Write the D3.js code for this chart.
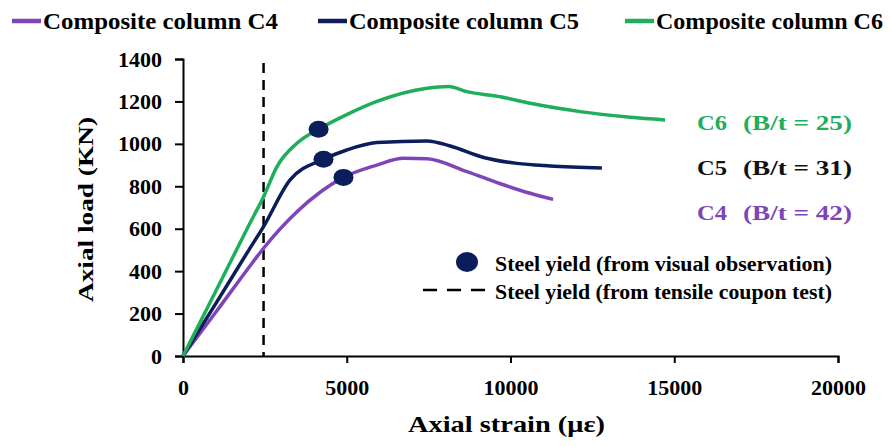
<!DOCTYPE html>
<html>
<head>
<meta charset="utf-8">
<script src="https://cdn.jsdelivr.net/npm/d3@7"></script>
<style>
body{margin:0;background:#fff;}
svg text{font-family:"Liberation Serif","Times New Roman",Times,"Nimbus Roman","Tinos","DejaVu Serif",serif !important;font-weight:bold;}
</style>
</head>
<body>
<script>
// strain (με) vs load (kN)
const c4Strain = [0, 1000, 2000, 2460, 3480, 4900, 5920, 6730, 7450, 8670, 9690, 10600, 11300];
const c4Load   = [0, 206, 415, 508, 680, 842, 900, 932, 930, 869, 812, 767, 738];
const c5Strain = [0, 1000, 2000, 2460, 3270, 4290, 5000, 5920, 7450, 8160, 9180, 10200, 11210, 12790];
const c5Load   = [0, 247, 497, 610, 830, 927, 971, 1006, 1014, 990, 936, 908, 896, 886];
const c6Strain = [0, 1000, 2000, 2460, 2870, 3480, 4140, 5000, 5920, 7450, 8110, 8670, 9690, 10600, 12130, 13650, 14720];
const c6Load   = [0, 305, 613, 751, 893, 1003, 1069, 1138, 1200, 1262, 1270, 1246, 1222, 1191, 1152, 1125, 1113];
const seriesNames = ["Composite column C4", "Composite column C5", "Composite column C6"];
const seriesColors = ["#7d45b8", "#0b1e5b", "#1fae5a"];
const sideNames = ["C4", "C5", "C6"];
const sideRatios = ["(B/t = 42)", "(B/t = 31)", "(B/t = 25)"];
const sideColors = ["#7d45b8", "#111111", "#1fae5a"];
const yieldStrain = [4900, 4290, 4140];
const yieldLoad = [842, 927, 1069];
const couponStrain = 2460;
const xTicks = [0, 5000, 10000, 15000, 20000];
const yTicks = [0, 200, 400, 600, 800, 1000, 1200, 1400];

const W = 892, H = 446;
const svg = d3.select('body').append('svg').attr('width', W).attr('height', H);

const x = d3.scaleLinear().domain([0, 20000]).range([183, 838]);
const y = d3.scaleLinear().domain([0, 1400]).range([356, 59]);

// axes
const xAxis = svg.append('g').attr('transform', 'translate(0,' + y(0) + ')')
  .call(d3.axisBottom(x).tickValues(xTicks).tickSize(7).tickFormat(d3.format('d')));
const yAxis = svg.append('g').attr('transform', 'translate(' + x(0) + ',0)')
  .call(d3.axisLeft(y).tickValues(yTicks).tickSize(8).tickPadding(13).tickFormat(d3.format('d')));
[xAxis, yAxis].forEach(a => {
  a.attr('font-family', null);
  a.select('.domain').attr('stroke', '#000').attr('stroke-width', 2);
  a.selectAll('.tick line').attr('stroke', '#000').attr('stroke-width', 2);
  a.selectAll('.tick text').attr('fill', '#000').style('font-size', '22px');
});
xAxis.selectAll('.tick text').attr('dy', null).attr('y', 39);

svg.append('text').attr('x', 408).attr('y', 432).style('font-size', '23px')
  .attr('textLength', 197).attr('lengthAdjust', 'spacingAndGlyphs').text('Axial strain (με)');
svg.append('text').attr('transform', 'translate(93,302) rotate(-90)').style('font-size', '22px')
  .attr('textLength', 185).attr('lengthAdjust', 'spacingAndGlyphs').text('Axial load (KN)');

// coupon-test yield line
svg.append('line').attr('x1', x(couponStrain)).attr('x2', x(couponStrain))
  .attr('y1', 63).attr('y2', y(0))
  .attr('stroke', '#000').attr('stroke-width', 2.5).attr('stroke-dasharray', '10,7');

// curves
const series = [
  c4Strain.map((s, i) => [s, c4Load[i]]),
  c5Strain.map((s, i) => [s, c5Load[i]]),
  c6Strain.map((s, i) => [s, c6Load[i]])
];
const line = d3.line().x(d => x(d[0])).y(d => y(d[1])).curve(d3.curveMonotoneX);
series.forEach((d, i) => {
  svg.append('path').datum(d).attr('d', line).attr('fill', 'none')
    .attr('stroke', seriesColors[i]).attr('stroke-width', 3.5);
});

// yield points
svg.selectAll('.yield').data(yieldStrain).enter().append('ellipse')
  .attr('cx', d => x(d)).attr('cy', (d, i) => y(yieldLoad[i]))
  .attr('rx', 10).attr('ry', 8.5).attr('fill', '#0b1e5b');

// side labels
[220, 175, 130].forEach((yy, i) => {
  svg.append('text').attr('x', 697).attr('y', yy).style('font-size', '22px')
    .attr('textLength', 30).attr('lengthAdjust', 'spacingAndGlyphs')
    .attr('fill', sideColors[i]).text(sideNames[i]);
  svg.append('text').attr('x', 743).attr('y', yy).style('font-size', '22px')
    .attr('textLength', 109).attr('lengthAdjust', 'spacingAndGlyphs')
    .attr('fill', sideColors[i]).text(sideRatios[i]);
});

// top legend
const legX = [12, 318, 625];
const legW = [235, 230, 227];
seriesNames.forEach((n, i) => {
  svg.append('line').attr('x1', legX[i]).attr('x2', legX[i] + 29).attr('y1', 21).attr('y2', 21)
    .attr('stroke', seriesColors[i]).attr('stroke-width', 4.5);
  svg.append('text').attr('x', legX[i] + 31).attr('y', 29).style('font-size', '23px')
    .attr('textLength', legW[i]).attr('lengthAdjust', 'spacingAndGlyphs').text(n);
});

// inner legend
svg.append('ellipse').attr('cx', 467).attr('cy', 262).attr('rx', 11).attr('ry', 10).attr('fill', '#0b1e5b');
svg.append('text').attr('x', 495).attr('y', 271).style('font-size', '20px')
  .attr('textLength', 337).attr('lengthAdjust', 'spacingAndGlyphs')
  .text('Steel yield (from visual observation)');
svg.append('line').attr('x1', 423).attr('x2', 485).attr('y1', 290).attr('y2', 290)
  .attr('stroke', '#000').attr('stroke-width', 2.5).attr('stroke-dasharray', '14,10');
svg.append('text').attr('x', 495).attr('y', 299).style('font-size', '20px')
  .attr('textLength', 337).attr('lengthAdjust', 'spacingAndGlyphs')
  .text('Steel yield (from tensile coupon test)');
</script>
</body>
</html>
